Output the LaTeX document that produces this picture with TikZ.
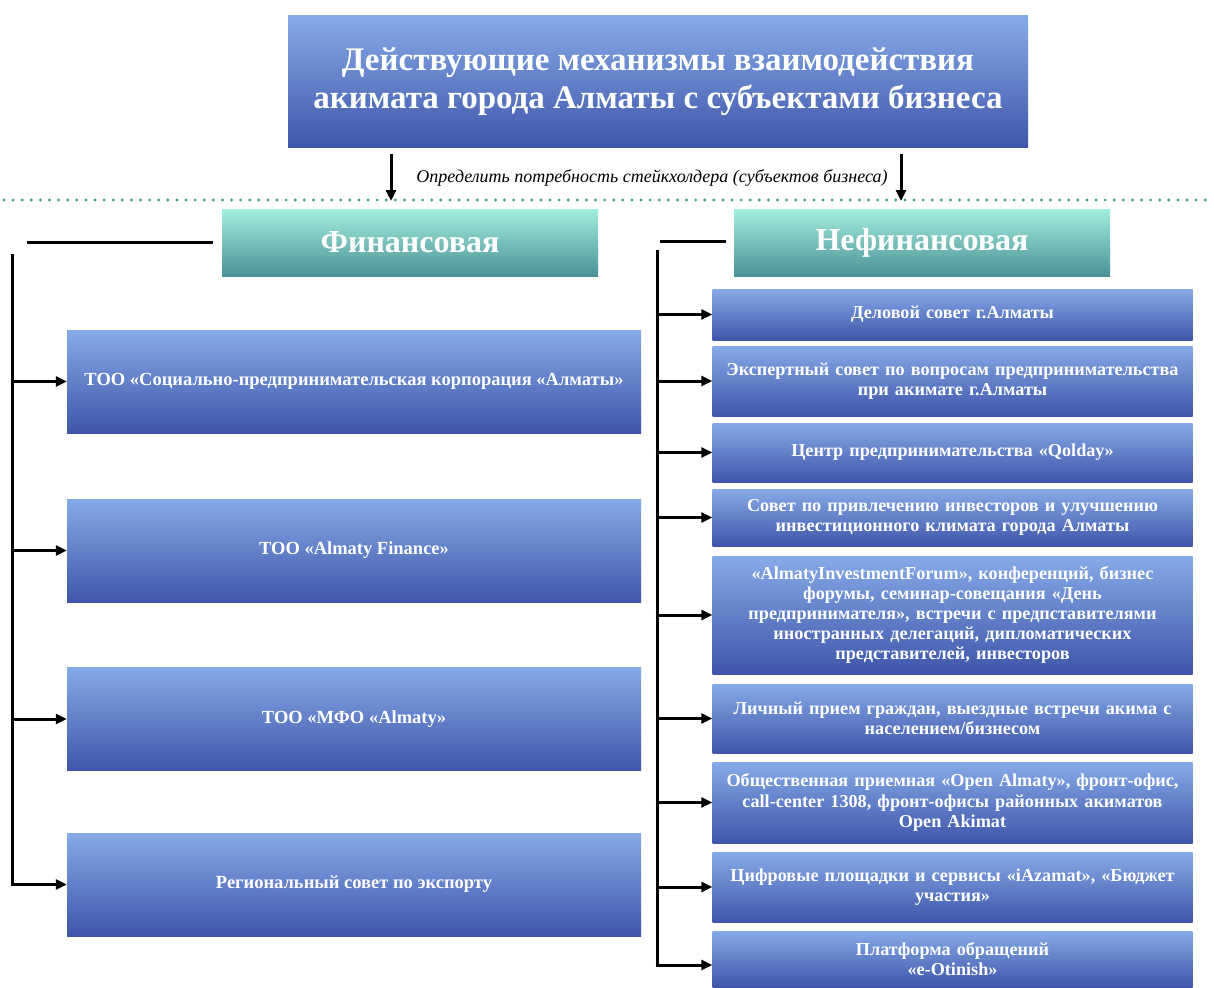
\documentclass[tikz,border=0pt]{standalone}
\usepackage{fontspec}
\setmainfont{Liberation Serif}
\usetikzlibrary{arrows.meta}
\definecolor{btop}{HTML}{86AAE8}
\definecolor{bbot}{HTML}{3F55AA}
\definecolor{ttop}{HTML}{A2EEDF}
\definecolor{tbot}{HTML}{4C9196}
\definecolor{dotc}{HTML}{3F9A9E}
\tikzset{
  bluebox/.style={rectangle, top color=btop, bottom color=bbot, draw=none, inner sep=2pt,
     text=white, font=\bfseries, align=center},
  tealbox/.style={rectangle, top color=ttop, bottom color=tbot, draw=none, inner sep=2pt,
     text=white, font=\bfseries\fontsize{32}{36}\selectfont, align=center,
     minimum width=376pt, minimum height=67pt},
  lbox/.style={bluebox, minimum width=574pt, minimum height=103pt, font=\bfseries\fontsize{18.5}{21}\selectfont},
  rbox/.style={bluebox, minimum width=479pt, text width=476pt, font=\bfseries\fontsize{18.2}{20.2}\selectfont},
  conn/.style={line width=3pt, black},
  arr/.style={conn, -{Triangle[length=11pt,width=10pt]}},
}
\begin{document}
\begin{tikzpicture}[x=1pt,y=-1pt]
\useasboundingbox (0,0) rectangle (1214,987);
% title
\node[bluebox, minimum width=740pt, minimum height=132pt, font=\bfseries\fontsize{33}{38}\selectfont] (title) at (658,82)
  {Действующие механизмы взаимодействия\\акимата города Алматы с субъектами бизнеса};
% dotted line
\coordinate (dl) at (4,200);
\coordinate (dr) at (1212,200);
\draw[dotc, line width=3.2pt, line cap=round, dash pattern=on 0pt off 9.1pt] (dl) -- (dr);
% top arrows
\coordinate (ta1) at (391,201);
\coordinate (ta2) at (901,201);
\draw[arr] ([yshift=-6pt]title.south -| ta1) -- (ta1);
\draw[arr] ([yshift=-6pt]title.south -| ta2) -- (ta2);
\node[font=\itshape\fontsize{18}{21}\selectfont, anchor=center] (need) at (652,178)
  {Определить потребность стейкхолдера (субъектов бизнеса)};
% headers
\node[tealbox] (fin) at (410,242.5) {Финансовая};
\node[tealbox] (nefin) at (922,242.5) {Нефинансовая};
% left branch
\coordinate (lh) at (27,242);
\draw[conn] (lh) -- ([xshift=-9pt]fin.west |- lh);
\node[lbox] (f1) at (354,381.5) {ТОО «Социально-предпринимательская корпорация «Алматы»};
\node[lbox] (f2) at (354,550.5) {ТОО «Almaty Finance»};
\node[lbox] (f3) at (354,719) {ТОО «МФО «Almaty»};
\node[lbox] (f4) at (354,884.5) {Региональный совет по экспорту};
\coordinate (lvt) at (12,254);
\coordinate (lvb) at (12,885.5);
\draw[conn] (lvt) -- (lvb);
\foreach \n in {f1,f2,f3,f4} \draw[arr] ([xshift=-1.5pt]lvt |- \n.west) -- (\n.west);
% right branch
\coordinate (rh) at (660,241);
\draw[conn] (rh) -- ([xshift=-8pt]nefin.west |- rh);
\node[rbox, minimum height=51pt] (n1) at (952.5,314.5) {Деловой совет г.Алматы};
\node[rbox, minimum height=70pt] (n2) at (952.5,381) {Экспертный совет по вопросам предпринимательства\\при акимате г.Алматы};
\node[rbox, minimum height=59pt] (n3) at (952.5,452.5) {Центр предпринимательства «Qolday»};
\node[rbox, minimum height=57pt] (n4) at (952.5,517.5) {Совет по привлечению инвесторов и улучшению\\инвестиционного климата города Алматы};
\node[rbox, minimum height=118pt] (n5) at (952.5,615) {«AlmatyInvestmentForum», конференций, бизнес\\форумы, семинар-совещания «День\\предпринимателя», встречи с предпставителями\\иностранных делегаций, дипломатических\\представителей, инвесторов};
\node[rbox, minimum height=69pt] (n6) at (952.5,718.5) {Личный прием граждан, выездные встречи акима с\\населением/бизнесом};
\node[rbox, minimum height=81pt] (n7) at (952.5,802.5) {Общественная приемная «Open Almaty», фронт-офис,\\call-center 1308, фронт-офисы районных акиматов\\Open Akimat};
\node[rbox, minimum height=70pt] (n8) at (952.5,887) {Цифровые площадки и сервисы «iAzamat», «Бюджет\\участия»};
\node[rbox, minimum height=56pt] (n9) at (952.5,959) {Платформа обращений\\«e-Otinish»};
\coordinate (rvt) at (657,250);
\coordinate (rvb) at (657,965);
\draw[conn] (rvt) -- ([yshift=-1.5pt]rvb);
\foreach \n in {n1,n2,n3,n4,n5,n6,n7,n8} \draw[arr] ([xshift=-1.5pt]rvt |- \n.west) -- (\n.west);
\draw[arr] ([xshift=-1.5pt]rvb) -- (rvb -| n9.west);
\end{tikzpicture}
\end{document}
